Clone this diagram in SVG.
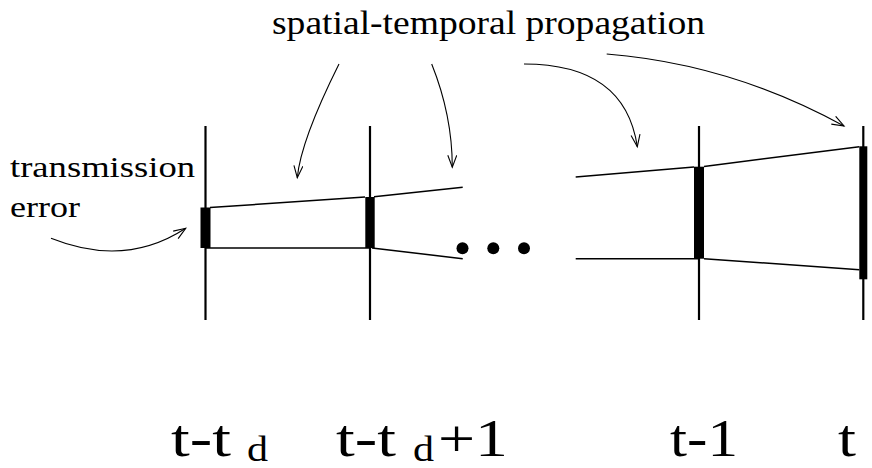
<svg xmlns="http://www.w3.org/2000/svg" width="872" height="468" viewBox="0 0 872 468">
<style>
.t{fill:#000}
.big{font-size:52px}
.sub{font-size:36px}
.ax{stroke:#000;stroke-width:2.2;fill:none}
.bar{fill:#000}
.ln{stroke:#000;stroke-width:1.5;fill:none}
.arr{stroke:#000;stroke-width:1.1;fill:none;marker-end:url(#ah)}
</style>
<defs>
<marker id="ah" markerWidth="16" markerHeight="12" refX="13" refY="5" orient="auto" markerUnits="userSpaceOnUse">
<path d="M1,0.5 L13,5 L1,9.5" fill="none" stroke="#000" stroke-width="1.1"/>
</marker>
</defs>
<rect width="872" height="468" fill="#fff"/>
<g font-family="Liberation Serif, Tinos, Times New Roman, Times, Nimbus Roman, serif">
<text class="t" x="272" y="34" font-size="33" textLength="433" lengthAdjust="spacingAndGlyphs">spatial-temporal propagation</text>
<text class="t" x="10" y="177" font-size="29" textLength="185" lengthAdjust="spacingAndGlyphs">transmission</text>
<text class="t" x="10" y="217" font-size="29" textLength="70" lengthAdjust="spacingAndGlyphs">error</text>
<g id="frame-t-td">
<line class="ax" x1="205.5" y1="126" x2="205.5" y2="320"/>
<rect class="bar" x="200.5" y="207.5" width="10" height="40.5"/>
<text class="t big" x="171" y="456" textLength="60" lengthAdjust="spacingAndGlyphs">t-t</text>
<text class="t sub" x="247" y="461" textLength="21" lengthAdjust="spacingAndGlyphs">d</text>
</g>
<g id="frame-t-td1">
<line class="ax" x1="370" y1="126" x2="370" y2="320"/>
<rect class="bar" x="365.3" y="197" width="9.4" height="51"/>
<text class="t big" x="336" y="456" textLength="60" lengthAdjust="spacingAndGlyphs">t-t</text>
<text class="t sub" x="413" y="461" textLength="21" lengthAdjust="spacingAndGlyphs">d</text>
<text class="t big" x="438" y="456" textLength="70" lengthAdjust="spacingAndGlyphs">+1</text>
</g>
<g id="dots">
<circle cx="462.5" cy="248.3" r="6"/>
<circle cx="493.3" cy="248.3" r="6"/>
<circle cx="524" cy="248.3" r="6"/>
</g>
<g id="frame-t-1">
<line class="ax" x1="699" y1="126" x2="699" y2="320"/>
<rect class="bar" x="694" y="166.7" width="10" height="92"/>
<text class="t big" x="670" y="456" textLength="68" lengthAdjust="spacingAndGlyphs">t-1</text>
</g>
<g id="frame-t">
<line class="ax" x1="863.3" y1="126" x2="863.3" y2="320"/>
<rect class="bar" x="859.3" y="146.3" width="8" height="133"/>
<text class="t big" x="838" y="456" textLength="18" lengthAdjust="spacingAndGlyphs">t</text>
</g>
</g>
<g id="connectors">
<line class="ln" x1="210" y1="207.5" x2="365" y2="197"/>
<line class="ln" x1="205" y1="248" x2="370" y2="248"/>
<line class="ln" x1="374" y1="196.8" x2="462.7" y2="187.3"/>
<line class="ln" x1="372" y1="248" x2="462.7" y2="258.7"/>
<line class="ln" x1="575.7" y1="177" x2="694" y2="167"/>
<line class="ln" x1="575.7" y1="258.7" x2="699" y2="258.7"/>
<line class="ln" x1="704" y1="166.5" x2="859.3" y2="146.7"/>
<line class="ln" x1="704" y1="258.7" x2="859.3" y2="269.7"/>
<path class="arr" d="M339,64 Q300.8,140.5 297.3,177.7"/>
<path class="arr" d="M431.7,64 Q452.3,115.5 452.3,167.3"/>
<path class="arr" d="M524,64 Q625,64 637.3,146.7"/>
<path class="arr" d="M606.7,54 Q731.2,64 844,126"/>
<path class="arr" d="M51,238.3 Q125,268 185.7,228.3"/>
</g>
</svg>
